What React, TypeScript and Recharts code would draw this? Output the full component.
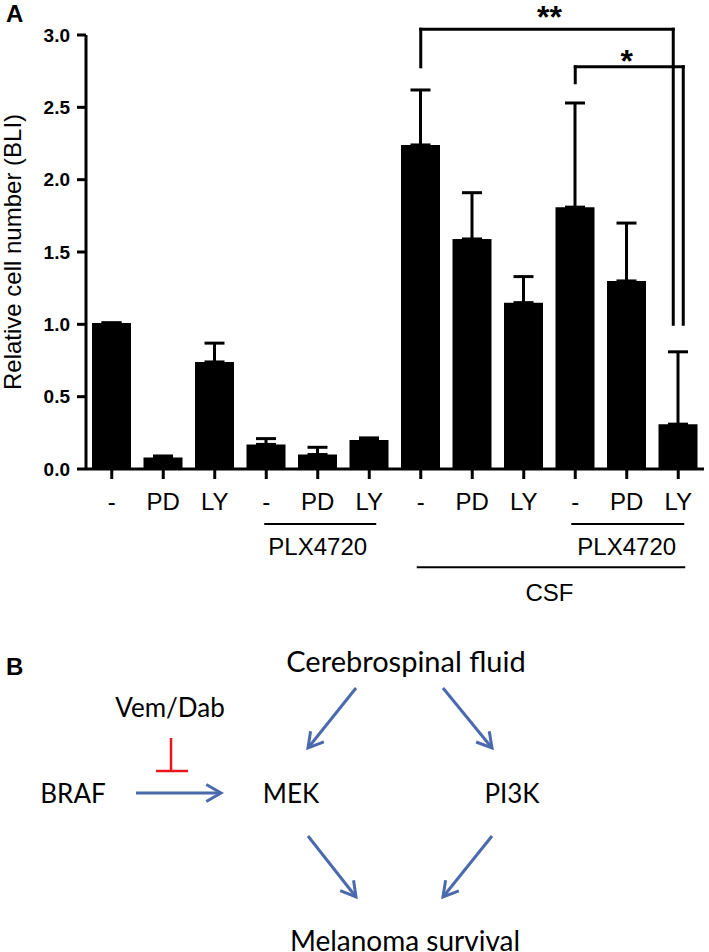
import React from 'react'
import { BarChart, Bar, XAxis, YAxis, ErrorBar, ReferenceLine } from 'recharts'

// panel A values
const treatments = ['-', 'PD', 'LY', '-', 'PD', 'LY', '-', 'PD', 'LY', '-', 'PD', 'LY']
const relCellNumber = [1.01, 0.08, 0.74, 0.17, 0.1, 0.2, 2.24, 1.59, 1.15, 1.81, 1.3, 0.31]
const sem = [0, 0.01, 0.13, 0.04, 0.05, 0.015, 0.38, 0.32, 0.18, 0.72, 0.4, 0.5]
const yTicks = [0, 0.5, 1, 1.5, 2, 2.5, 3]

const data = treatments.map((t, i) => ({ key: 'c' + i, label: t, value: relCellNumber[i], err: [0, sem[i]] }))
const k = (i: number) => data[i].key

const ARIAL = '"Liberation Sans", Arial, sans-serif'
const BLUE = '#4a6aad'
const RED = '#e8151b'

const seg = (dx1: number, dx2: number, w: number) => (p: any) => (
  <line x1={p.x1 + dx1} y1={p.y1} x2={p.x2 + dx2} y2={p.y2} stroke="#000" strokeWidth={w} strokeLinecap="square" />
)

function Arrow({ x1, y1, x2, y2 }: { x1: number; y1: number; x2: number; y2: number }) {
  const a = Math.atan2(y2 - y1, x2 - x1)
  const len = 17
  const s = Math.PI / 6
  const p1 = `${x2 - len * Math.cos(a - s)},${y2 - len * Math.sin(a - s)}`
  const p2 = `${x2 - len * Math.cos(a + s)},${y2 - len * Math.sin(a + s)}`
  return (
    <g stroke={BLUE} strokeWidth={3} fill="none">
      <line x1={x1} y1={y1} x2={x2} y2={y2} />
      <polyline points={`${p1} ${x2},${y2} ${p2}`} />
    </g>
  )
}

function Pathway() {
  const txt = { fontFamily: 'Lato, sans-serif', fontSize: 26, fill: '#000', textAnchor: 'middle' as const }
  return (
    <svg width={709} height={952} style={{ position: 'absolute', left: 0, top: 0 }}>
      <text x={6} y={675} fontFamily={ARIAL} fontWeight="bold" fontSize={24}>B</text>
      <text x={406} y={672} {...txt} fontSize={29}>Cerebrospinal fluid</text>
      <text x={170} y={717} {...txt}>Vem/Dab</text>
      <text x={73} y={803} {...txt}>BRAF</text>
      <text x={291} y={803} {...txt}>MEK</text>
      <text x={512} y={803} {...txt}>PI3K</text>
      <text x={405} y={951} {...txt} fontSize={28}>Melanoma survival</text>
      <Arrow x1={136} y1={793} x2={221} y2={793} />
      <Arrow x1={356} y1={688} x2={308} y2={748} />
      <Arrow x1={443} y1={688} x2={492} y2={748} />
      <Arrow x1={308} y1={836} x2={356} y2={897} />
      <Arrow x1={492} y1={836} x2={443} y2={897} />
      <g stroke={RED} strokeWidth={2.5}>
        <line x1={171} y1={738} x2={171} y2={771} />
        <line x1={156} y1={771} x2={188} y2={771} />
      </g>
    </svg>
  )
}

export default function App() {
  return (
    <div style={{ position: 'absolute', left: 0, top: 0, width: 709, height: 952, background: '#fff' }}>
      <svg width={40} height={30} style={{ position: 'absolute', left: 0, top: 0 }}>
        <text x={6} y={22} fontFamily={ARIAL} fontWeight="bold" fontSize={24}>A</text>
      </svg>
      <div style={{ position: 'absolute', left: 0, top: 0 }}>
        <BarChart width={709} height={620} data={data} margin={{ top: 35, right: 5, bottom: 121, left: 0 }}>
          <XAxis
            dataKey="key"
            height={30}
            interval={0}
            tickFormatter={(_v: any, i: number) => treatments[i]}
            axisLine={{ stroke: '#000', strokeWidth: 3 }}
            tickLine={{ stroke: '#000', strokeWidth: 3 }}
            tickSize={10}
            tickMargin={14}
            tick={{ fill: '#000', fontSize: 24, fontFamily: ARIAL }}
          />
          <YAxis
            width={86}
            domain={[0, 3]}
            ticks={yTicks}
            tickFormatter={(v: number) => v.toFixed(1)}
            axisLine={{ stroke: '#000', strokeWidth: 3 }}
            tickLine={{ stroke: '#000', strokeWidth: 3 }}
            tickSize={9}
            tickMargin={7}
            tick={{ fill: '#000', fontSize: 19, fontWeight: 'bold', fontFamily: ARIAL }}
            label={{
              value: 'Relative cell number (BLI)',
              angle: -90,
              position: 'insideLeft',
              offset: 12,
              style: { textAnchor: 'middle', fill: '#000', fontSize: 24, fontFamily: ARIAL },
            }}
          />
          <Bar dataKey="value" fill="#000" barSize={39} isAnimationActive={false}>
            <ErrorBar dataKey="err" width={10} strokeWidth={3} stroke="#000" direction="y" />
          </Bar>

          {/* significance brackets */}
          <ReferenceLine ifOverflow="visible" segment={[{ x: k(6), y: 2.78 }, { x: k(6), y: 3.04 }]} shape={seg(0, 0, 3)} />
          <ReferenceLine
            ifOverflow="visible"
            segment={[{ x: k(6), y: 3.04 }, { x: k(11), y: 3.04 }]}
            shape={seg(0, -5, 3)}
            label={{ value: '**', position: 'top', offset: 1, fill: '#000', fontSize: 32, fontWeight: 'bold', fontFamily: ARIAL }}
          />
          <ReferenceLine ifOverflow="visible" segment={[{ x: k(11), y: 3.04 }, { x: k(11), y: 1.0 }]} shape={seg(-5, -5, 3)} />
          <ReferenceLine ifOverflow="visible" segment={[{ x: k(9), y: 2.67 }, { x: k(9), y: 2.78 }]} shape={seg(0, 0, 3)} />
          <ReferenceLine
            ifOverflow="visible"
            segment={[{ x: k(9), y: 2.78 }, { x: k(11), y: 2.78 }]}
            shape={seg(0, 5, 3)}
            label={{ value: '*', position: 'top', offset: -5, fill: '#000', fontSize: 32, fontWeight: 'bold', fontFamily: ARIAL }}
          />
          <ReferenceLine ifOverflow="visible" segment={[{ x: k(11), y: 2.78 }, { x: k(11), y: 1.0 }]} shape={seg(5, 5, 3)} />

          {/* treatment group lines under the axis */}
          <ReferenceLine
            ifOverflow="visible"
            segment={[{ x: k(3), y: -0.38 }, { x: k(5), y: -0.38 }]}
            shape={seg(-1, 6, 2)}
            label={{ value: 'PLX4720', position: 'bottom', offset: 14, fill: '#000', fontSize: 24, fontFamily: ARIAL }}
          />
          <ReferenceLine
            ifOverflow="visible"
            segment={[{ x: k(9), y: -0.38 }, { x: k(11), y: -0.38 }]}
            shape={seg(-3, 5, 2)}
            label={{ value: 'PLX4720', position: 'bottom', offset: 14, fill: '#000', fontSize: 24, fontFamily: ARIAL }}
          />
          <ReferenceLine
            ifOverflow="visible"
            segment={[{ x: k(6), y: -0.68 }, { x: k(11), y: -0.68 }]}
            shape={seg(-3, 6, 2)}
            label={{ value: 'CSF', position: 'bottom', offset: 17, fill: '#000', fontSize: 24, fontFamily: ARIAL }}
          />
        </BarChart>
      </div>
      <Pathway />
    </div>
  )
}
